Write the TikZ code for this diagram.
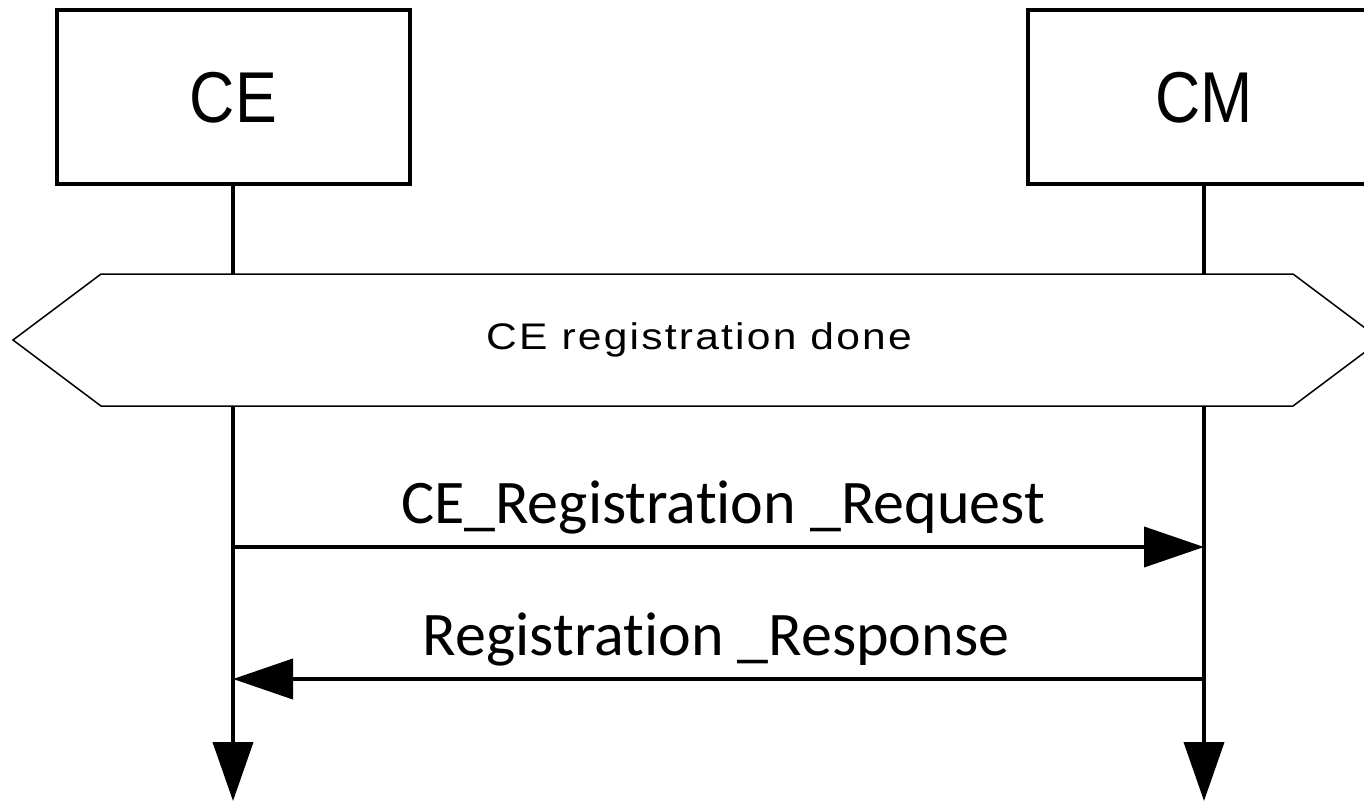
\documentclass[tikz,border=0pt]{standalone}
\usepackage{fontspec}
\setmainfont{Liberation Sans}
\newfontfamily\boxfont[FakeStretch=0.87]{Liberation Sans}
\newfontfamily\hexfont[FakeStretch=1.15,LetterSpace=6]{Liberation Sans}
\newfontfamily\msgfont[RawFeature={-liga;-calt;-dlig}]{Carlito}
\usetikzlibrary{arrows.meta}
\tikzset{
  actor/.style={draw, line width=4pt, fill=white, minimum width=353pt, minimum height=173.5pt, inner sep=0pt,
    font=\boxfont\fontsize{72}{72}\selectfont},
  lifeline/.style={line width=4pt, -{Triangle[length=59pt,width=40pt]}},
  msgarrow/.style={line width=4pt, -{Triangle[length=60pt,width=40pt]}},
  msglabel/.style={anchor=base, inner sep=0pt, font=\msgfont\fontsize{62}{62}\selectfont},
  hexlabel/.style={anchor=base, inner sep=0pt, font=\hexfont\fontsize{37}{37}\selectfont},
  hexframe/.style={draw, line width=1.5pt, fill=white, line join=miter}
}
\begin{document}
\begin{tikzpicture}[x=1pt,y=-1pt]
\useasboundingbox (0,0) rectangle (1364,802);
\clip (0,0) rectangle (1364,802);
\fill[white] (0,0) rectangle (1364,802);

% lifelines
\coordinate (ceend) at (233,801);
\coordinate (cmend) at (1204,801);
\coordinate (ce1) at (233,547);
\coordinate (cm1) at (1204,547);
\coordinate (ce2) at (233,679);
\coordinate (cm2) at (1204,679);

\node[actor] (ce) at (233.5,97.25) {CE};
\node[actor] (cm) at (1204,97.25) {CM};

\draw[lifeline] (ce.south -| ceend) -- (ceend);
\draw[lifeline] (cm.south -| cmend) -- (cmend);

% state hexagon
\draw[hexframe] (13,340) -- (101,274) -- (1293,274) -- (1381,340) -- (1293,406) -- (101,406) -- cycle;
\node[hexlabel] (state) at (699,349) {CE registration done};

% messages
\draw[msgarrow] (ce1) -- (cm1);
\node[msglabel] (req) at (723,523) {CE\_Registrat\kern0pt ion \_Request};
\draw[msgarrow] (cm2) -- (ce2);
\node[msglabel] (resp) at (716,655) {Registrat\kern0pt ion \_Response};
\end{tikzpicture}
\end{document}
